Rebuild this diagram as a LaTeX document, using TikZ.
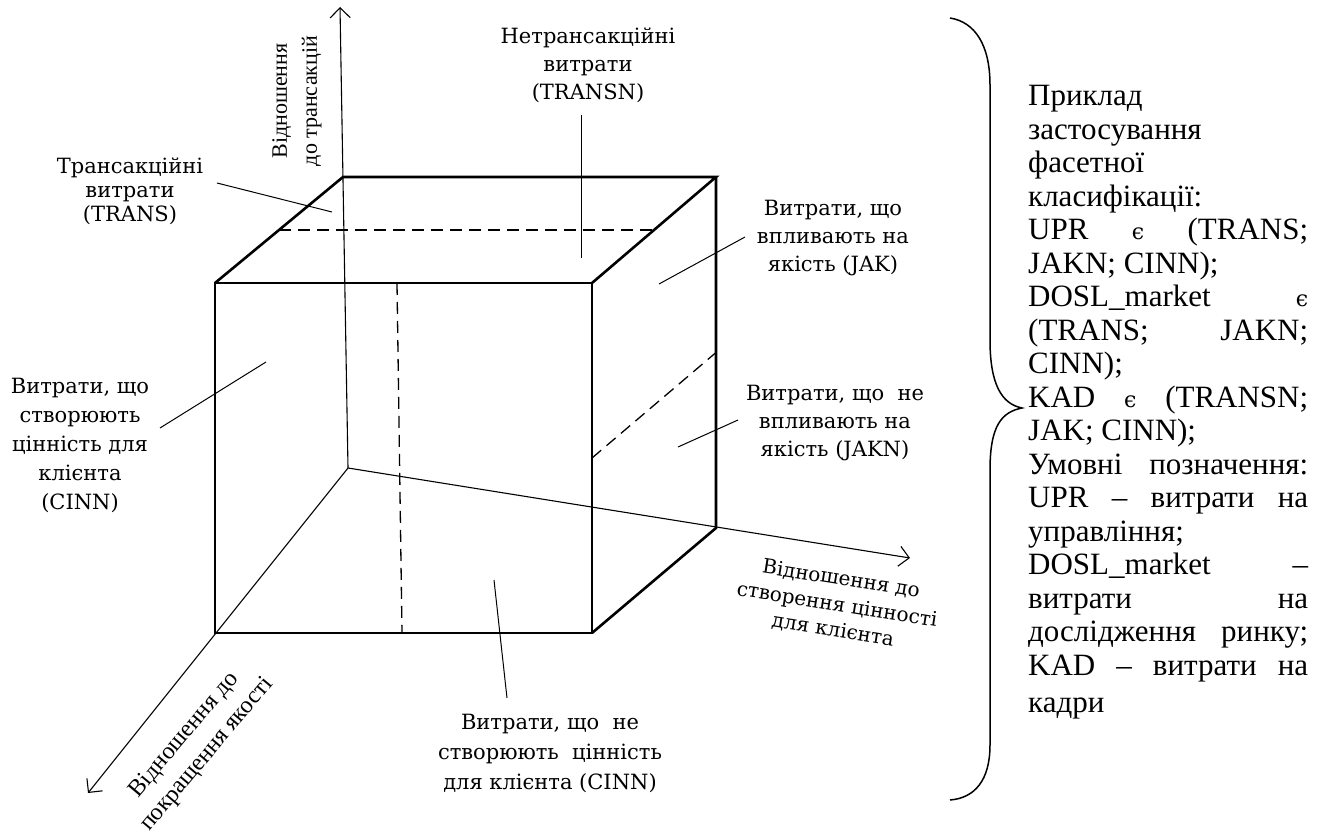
\documentclass[tikz,border=0pt]{standalone}
\usepackage{fontspec}
\setmainfont{Liberation Serif}
\newfontfamily\labelfont{DejaVu Serif}
\usetikzlibrary{arrows.meta,calc}

\newcommand\notefont{\labelfont\fontsize{21}{28}\selectfont}
\newcommand\jline[1]{\makebox[280pt][s]{#1}}
\newcommand\inset{{\labelfont\fontsize{22}{33.5}\selectfont ϵ}}

\begin{document}
\begin{tikzpicture}[x=1pt, y=-1pt,
    cube/.style={line width=2.6pt},
    axis/.style={line width=1.1pt, -{Straight Barb[length=10pt,width=20pt]}},
    hidden/.style={line width=1.3pt, dash pattern=on 12pt off 7pt},
    lead/.style={line width=1pt},
    note/.style={font=\notefont, align=center, inner sep=0pt},
    legendtext/.style={font=\fontsize{31}{33.5}\selectfont, inner sep=0pt, anchor=base west}]
  \useasboundingbox (0,0) rectangle (1326,832);

  \coordinate (o) at (348,468);
  \coordinate (up) at (340,7);
  \coordinate (right) at (910,558);
  \coordinate (down) at (88,793);
  \coordinate (f1) at (215,283);
  \coordinate (f2) at (592,283);
  \coordinate (f3) at (592,633);
  \coordinate (f4) at (215,633);
  \coordinate (b1) at (343,177);
  \coordinate (b2) at (716,177);
  \coordinate (b3) at (716,528);

  \draw[axis] (o) -- (up);
  \draw[axis] (o) -- (right);
  \draw[axis] (o) -- (down);

  \draw[hidden] ($(f1)!0.5!(b1)$) -- ($(f2)!0.5!(b2)$);
  \draw[hidden] (397,283) -- (402,633);
  \draw[hidden] ($(f2)!0.5!(f3)$) -- ($(b2)!0.5!(b3)$);

  \draw[cube] (f1) -- (f2) -- (f3) -- (f4) -- cycle;
  \draw[cube] (f1) -- (b1) -- (b2) -- (f2);
  \draw[cube] (b2) -- (b3) -- (f3);

  \node[note, font=\labelfont\fontsize{21}{24}\selectfont] (trans) at (130,191) {Трансакційні\\витрати\\(TRANS)};
  \node[note] (transn) at (588,65) {Нетрансакційні\\витрати\\(TRANSN)};
  \node[note] (jak) at (833,238) {Витрати, що\\впливають на\\якість (JAK)};
  \node[note, font=\labelfont\fontsize{21}{29}\selectfont] (cinn) at (80,445) {Витрати, що\\створюють\\цінність для\\клієнта\\(CINN)};
  \node[note] (jakn) at (835,423) {Витрати, що~~не\\впливають на\\якість (JAKN)};
  \node[note, font=\labelfont\fontsize{21}{30}\selectfont] (ncinn) at (550,753) {Витрати, що~~не\\створюють~~цінність\\для клієнта (CINN)};

  \node[note, font=\fontsize{22}{30}\selectfont, rotate=90] (axtrans) at (297,101) {Відношення\\до трансакцій};
  \node[note, font=\labelfont\fontsize{20}{26}\selectfont, rotate=-9] (axvalue) at (837,605) {Відношення до\\створення цінності\\для клієнта};
  \node[note, font=\fontsize{24}{30}\selectfont, rotate=50] (axqual) at (196,745) {Відношення до\\покращення якості};

  \coordinate (transA) at (217,183);
  \coordinate (transB) at (332,212);
  \coordinate (transnA) at (581,115);
  \coordinate (transnB) at (581,258);
  \coordinate (jakA) at (745,237);
  \coordinate (jakB) at (659,284);
  \coordinate (cinnA) at (160,428);
  \coordinate (cinnB) at (266,362);
  \coordinate (jaknA) at (738,420);
  \coordinate (jaknB) at (678,447);
  \coordinate (ncinnA) at (507,698);
  \coordinate (ncinnB) at (494,580);
  \draw[lead] (transA) -- (transB);
  \draw[lead] (transnA) -- (transnB);
  \draw[lead] (jakA) -- (jakB);
  \draw[lead] (cinnA) -- (cinnB);
  \draw[lead] (jaknA) -- (jaknB);
  \draw[lead] (ncinnA) -- (ncinnB);

  \draw[line width=1.5pt] (950,18) .. controls (975,22) and (990,45) .. (990,85) -- (990,340)
    .. controls (990,385) and (1002,404) .. (1022,408)
    .. controls (1002,412) and (990,425) .. (990,470) -- (990,745)
    .. controls (990,780) and (975,798) .. (950,800);

  \node[legendtext] (legend) at (1028,106) {\parbox[t]{280pt}{%
    Приклад\\
    застосування\\
    фасетної\\
    класифікації:\\
    \jline{UPR \inset{} (TRANS;}\\
    JAKN; CINN);\\
    \jline{DOSL\_market \inset}\\
    \jline{(TRANS; JAKN;}\\
    CINN);\\
    \jline{KAD \inset{} (TRANSN;}\\
    JAK; CINN);\\
    \jline{Умовні позначення:}\\
    \jline{UPR – витрати на}\\
    управління;\\
    \jline{DOSL\_market –}\\
    \jline{витрати на}\\
    \jline{дослідження ринку;}\\
    \jline{KAD – витрати на}\\[4pt]
    кадри}};
\end{tikzpicture}
\end{document}
